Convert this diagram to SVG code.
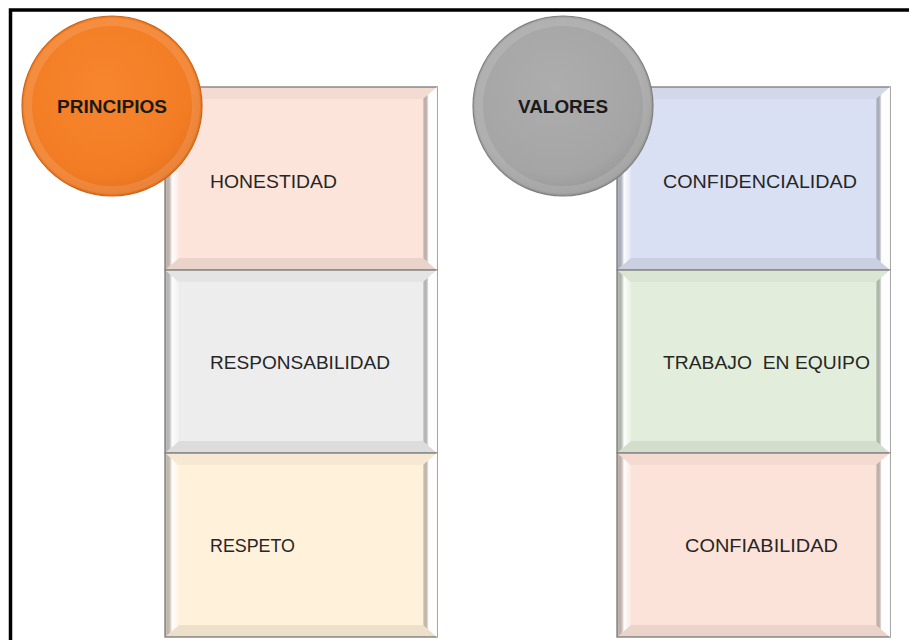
<svg xmlns="http://www.w3.org/2000/svg" width="909" height="640" viewBox="0 0 909 640">
<defs>
<radialGradient id="gOrange" cx="0.45" cy="0.4" r="0.6">
<stop offset="0" stop-color="#F7862E"/>
<stop offset="0.8" stop-color="#F27C24"/>
<stop offset="1" stop-color="#E6731F"/>
</radialGradient>
<radialGradient id="gGray" cx="0.45" cy="0.4" r="0.6">
<stop offset="0" stop-color="#ADADAD"/>
<stop offset="0.8" stop-color="#A5A5A5"/>
<stop offset="1" stop-color="#989898"/>
</radialGradient>
<linearGradient id="gLeft" x1="0" y1="0" x2="1" y2="0">
<stop offset="0" stop-color="#000" stop-opacity="0.1"/>
<stop offset="0.5" stop-color="#fff" stop-opacity="0.9"/>
<stop offset="1" stop-color="#fff" stop-opacity="0.2"/>
</linearGradient>
<linearGradient id="gRight" x1="0" y1="0" x2="1" y2="0">
<stop offset="0" stop-color="#000" stop-opacity="0.08"/>
<stop offset="0.4" stop-color="#fff" stop-opacity="0.95"/>
<stop offset="1" stop-color="#fff" stop-opacity="0.95"/>
</linearGradient>
</defs>
<style>
.frame{fill:none;stroke:#000;stroke-width:3.5}
.box{stroke:#8C8C8C;stroke-width:1.5}
.top{fill:#000;fill-opacity:0.035}
.bot{fill:#000;fill-opacity:0.07}
.ring{fill:none;stroke:#fff;stroke-opacity:0.12;stroke-width:8}
.lbl{font-family:"Liberation Sans",Arial,sans-serif;font-size:17.5px;fill:#262626}
.head{font-family:"Liberation Sans",Arial,sans-serif;font-size:17.5px;font-weight:bold;fill:#1a1a1a;text-anchor:middle}
</style>
<rect class="frame" x="10.5" y="10" width="910" height="650"/>

<g id="honestidad">
<rect class="box" x="165" y="87" width="272" height="183" fill="#FCE4DA"/>
<polygon class="top" points="165,87 437,87 425,99 177,99"/>
<polygon class="bot" points="165,270 437,270 423,258 179,258"/>
<polygon points="165,87 179,99 179,258 165,270" fill="url(#gLeft)"/>
<polygon points="437,87 423,99 423,258 437,270" fill="url(#gRight)"/>
<text class="lbl" x="210" y="188" textLength="127" lengthAdjust="spacingAndGlyphs">HONESTIDAD</text>
</g>
<g id="responsabilidad">
<rect class="box" x="165" y="270" width="272" height="183" fill="#EDEDED"/>
<polygon class="top" points="165,270 437,270 425,282 177,282"/>
<polygon class="bot" points="165,453 437,453 423,441 179,441"/>
<polygon points="165,270 179,282 179,441 165,453" fill="url(#gLeft)"/>
<polygon points="437,270 423,282 423,441 437,453" fill="url(#gRight)"/>
<text class="lbl" x="210" y="369" textLength="180" lengthAdjust="spacingAndGlyphs">RESPONSABILIDAD</text>
</g>
<g id="respeto">
<rect class="box" x="165" y="453" width="272" height="184" fill="#FFF1DA"/>
<polygon class="top" points="165,453 437,453 425,465 177,465"/>
<polygon class="bot" points="165,637 437,637 423,625 179,625"/>
<polygon points="165,453 179,465 179,625 165,637" fill="url(#gLeft)"/>
<polygon points="437,453 423,465 423,625 437,637" fill="url(#gRight)"/>
<text class="lbl" x="210" y="552" textLength="85" lengthAdjust="spacingAndGlyphs">RESPETO</text>
</g>

<g id="confidencialidad">
<rect class="box" x="617" y="87" width="273" height="183" fill="#DAE0F3"/>
<polygon class="top" points="617,87 890,87 878,99 629,99"/>
<polygon class="bot" points="617,270 890,270 876,258 631,258"/>
<polygon points="617,87 631,99 631,258 617,270" fill="url(#gLeft)"/>
<polygon points="890,87 876,99 876,258 890,270" fill="url(#gRight)"/>
<text class="lbl" x="663" y="188" textLength="194" lengthAdjust="spacingAndGlyphs">CONFIDENCIALIDAD</text>
</g>
<g id="trabajo">
<rect class="box" x="617" y="270" width="273" height="183" fill="#E2EEDB"/>
<polygon class="top" points="617,270 890,270 878,282 629,282"/>
<polygon class="bot" points="617,453 890,453 876,441 631,441"/>
<polygon points="617,270 631,282 631,441 617,453" fill="url(#gLeft)"/>
<polygon points="890,270 876,282 876,441 890,453" fill="url(#gRight)"/>
<text class="lbl" x="663" y="369" textLength="207" lengthAdjust="spacingAndGlyphs" xml:space="preserve" style="white-space:pre">TRABAJO  EN EQUIPO</text>
</g>
<g id="confiabilidad">
<rect class="box" x="617" y="453" width="273" height="184" fill="#FCE3DA"/>
<polygon class="top" points="617,453 890,453 878,465 629,465"/>
<polygon class="bot" points="617,637 890,637 876,625 631,625"/>
<polygon points="617,453 631,465 631,625 617,637" fill="url(#gLeft)"/>
<polygon points="890,453 876,465 876,625 890,637" fill="url(#gRight)"/>
<text class="lbl" x="685" y="552" textLength="153" lengthAdjust="spacingAndGlyphs">CONFIABILIDAD</text>
</g>

<g id="principios">
<circle cx="112" cy="106" r="90" fill="url(#gOrange)" stroke="#C8661C" stroke-width="1.2"/>
<circle class="ring" cx="112" cy="106" r="84"/>
<text class="head" x="112" y="113" textLength="110" lengthAdjust="spacingAndGlyphs">PRINCIPIOS</text>
</g>
<g id="valores">
<circle cx="563" cy="106" r="90" fill="url(#gGray)" stroke="#7F7F7F" stroke-width="1.2"/>
<circle class="ring" cx="563" cy="106" r="84"/>
<text class="head" x="563" y="113" textLength="90" lengthAdjust="spacingAndGlyphs">VALORES</text>
</g>
<g id="connectors"/>
</svg>
